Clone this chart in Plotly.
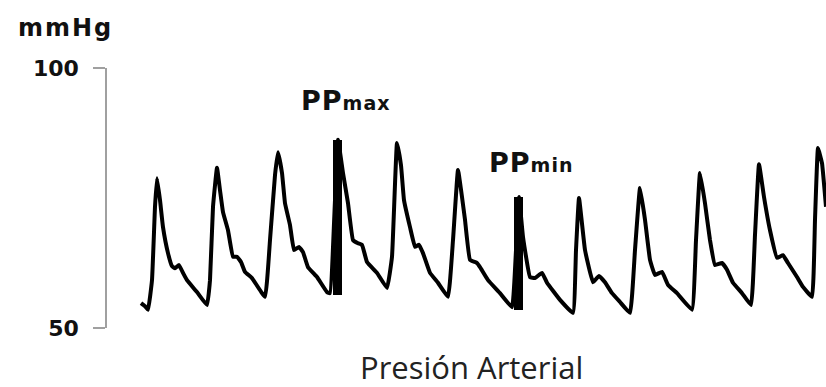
import plotly.graph_objects as go

# Arterial pressure trace (time in arbitrary units, pressure in mmHg)
t = [141, 145, 148, 152, 155, 157, 160, 163, 168, 172, 175, 179, 183, 187, 197, 207,
     210, 213, 217, 220, 223, 228, 233, 237, 241, 245, 252, 265,
     270, 275, 278, 282, 285, 290, 294, 299, 303, 308, 317, 327, 330,
     335, 338, 343, 348, 353, 358, 362, 367, 377, 387,
     392, 397, 401, 404, 410, 415, 419, 423, 430, 438, 448,
     453, 458, 462, 465, 470, 477, 480, 488, 500, 512,
     516, 519, 523, 530, 535, 542, 547, 560, 573,
     576, 579, 585, 593, 599, 605, 612, 620, 630,
     635, 640, 645, 650, 655, 662, 668, 677, 692,
     696, 700, 705, 710, 715, 722, 727, 733, 742, 751,
     755, 759, 764, 770, 777, 783, 788, 797, 803, 812,
     815, 818, 822, 826]
pressure = [54.8, 54.2, 53.5, 59.2, 73.3, 78.8, 74.6, 69.4, 64.4, 61.9, 61.5, 62.1, 60.6, 59.2, 56.9, 54.4,
            59.2, 73.3, 80.8, 76.5, 72.3, 68.8, 63.7, 63.7, 62.7, 60.8, 59.6, 56.0,
            66.9, 79.4, 83.8, 79.8, 74.0, 69.8, 65.0, 65.6, 64.6, 61.7, 59.8, 56.9, 56.7,
            74.6, 86.2, 79.8, 74.0, 66.9, 66.3, 66.0, 62.7, 60.6, 57.7,
            63.7, 85.6, 81.3, 74.6, 69.4, 65.6, 66.0, 64.4, 60.6, 58.7, 56.0,
            66.9, 80.4, 75.2, 70.8, 63.1, 62.5, 61.7, 59.2, 56.7, 54.0,
            65.0, 75.2, 67.5, 59.8, 59.6, 60.6, 58.7, 55.4, 52.9,
            65.0, 75.0, 65.0, 58.8, 60.0, 58.8, 56.7, 55.0, 52.9,
            65.0, 76.9, 70.8, 63.1, 60.2, 60.8, 58.3, 56.7, 53.5,
            66.9, 79.8, 74.0, 66.9, 62.1, 62.5, 61.2, 58.7, 56.7, 54.4,
            67.9, 81.5, 75.2, 68.8, 63.5, 64.0, 62.5, 59.8, 57.9, 56.0,
            70.8, 84.6, 81.7, 73.3]

# Pulse-pressure markers (max and min beat): time, diastolic base, systolic top
pp_t = [337, 518]
pp_base = [56.3, 53.5]
pp_top = [86.2, 75.2]
pp_labels = ["PP<span style='font-size:19px'>max</span>", "PP<span style='font-size:19px'>min</span>"]
pp_label_t = [345, 531]
pp_label_y = [93.8, 81.9]

y_ticks = [50, 100]
y_ticktext = ["50", "100"]

fig = go.Figure()
fig.add_trace(go.Bar(
    x=pp_t, y=[top - b for top, b in zip(pp_top, pp_base)], base=pp_base,
    width=9, marker=dict(color="black", line=dict(width=0)), showlegend=False,
    hoverinfo="skip"))
fig.add_trace(go.Scatter(
    x=t, y=pressure, mode="lines",
    line=dict(color="black", width=4, shape="spline", smoothing=0.3), showlegend=False))

for lbl, lx, ly in zip(pp_labels, pp_label_t, pp_label_y):
    fig.add_annotation(
        x=lx, y=ly, xref="x", yref="y", xanchor="center", yanchor="middle",
        text="<span style='letter-spacing:1px'>" + lbl + "</span>", showarrow=False,
        font=dict(family="DejaVu Sans", size=27, color="#111111", weight="bold"))

fig.add_annotation(
    x=(65 - 107) / 719, y=(328 - 28) / 260, xref="paper", yref="paper",
    xanchor="center", yanchor="middle",
    text="<span style='letter-spacing:2px'>mmHg</span>", showarrow=False,
    font=dict(family="DejaVu Sans", size=24, color="#111111", weight="bold"))

fig.add_annotation(
    x=(472 - 107) / 719, y=(328 - 367) / 260, xref="paper", yref="paper",
    xanchor="center", yanchor="middle",
    text="Presión Arterial", showarrow=False,
    font=dict(family="Open Sans", size=31, color="#222222"))

fig.update_layout(
    width=826, height=387,
    margin=dict(l=107, r=0, t=68, b=59),
    paper_bgcolor="white", plot_bgcolor="white",
    bargap=0,
    xaxis=dict(range=[107, 826], visible=False, showgrid=False, zeroline=False),
    yaxis=dict(range=[50, 100], tickvals=y_ticks, ticktext=y_ticktext,
               ticks="outside", ticklen=12, tickwidth=1.5, tickcolor="#a0a0a0",
               showline=True, linecolor="#a0a0a0", linewidth=1.5,
               showgrid=False, zeroline=False, ticklabelstandoff=10,
               tickfont=dict(family="DejaVu Sans", size=22, color="#111111", weight="bold")),
)

fig.write_html("out.html")
